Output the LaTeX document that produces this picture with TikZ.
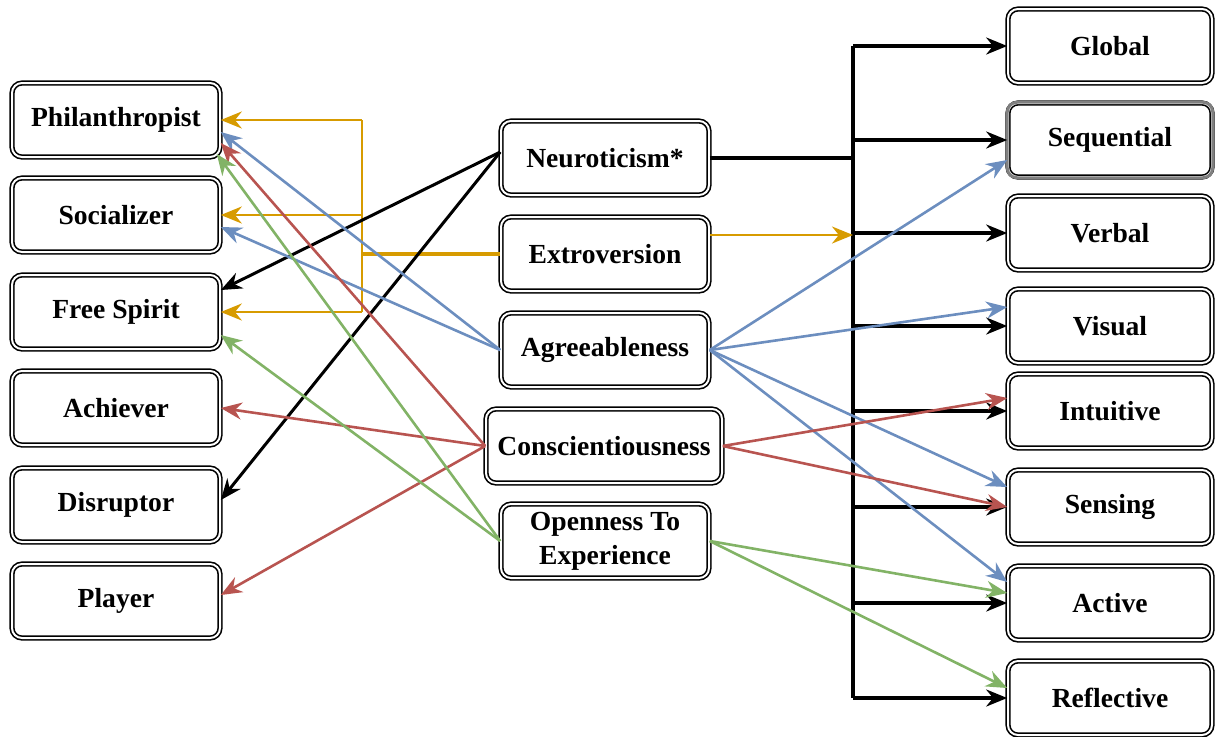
\documentclass[tikz,border=0pt]{standalone}
\usepackage{fontspec}
\setmainfont{Liberation Serif}
\usepackage{xcolor}
\usepackage{tikz}
\usetikzlibrary{arrows.meta, positioning, calc}

\definecolor{trorange}{HTML}{D79B00}
\definecolor{trblue}{HTML}{6C8EBF}
\definecolor{trred}{HTML}{B85450}
\definecolor{trgreen}{HTML}{82B366}

\begin{document}
\begin{tikzpicture}[x=0.5pt, y=-0.5pt,
  box/.style={draw, double, double distance=1pt, line width=0.8pt, rounded corners=5pt,
    fill=white, minimum width=104pt, minimum height=37pt, align=center, inner sep=2pt,
    font=\fontsize{13.8}{17}\selectfont\bfseries},
  link/.style={-{Stealth[length=10.5pt, width=8.5pt]}, line width=1.3pt},
  busarrow/.style={-{Stealth[length=10.5pt, width=8.5pt]}, line width=1.6pt}]
  \useasboundingbox (0,0) rectangle (1216,736);

  % Player types
  \foreach \name/\txt/\y in {phil/Philanthropist/120, soc/Socializer/215, free/Free Spirit/312,
      ach/Achiever/408, dis/Disruptor/505, play/Player/601}{
    \node[box] (\name) at (116,\y) {\txt};
  }

  % Personality traits
  \node[box] (neu) at (605,158) {Neuroticism*};
  \node[box] (ext) at (605,254) {Extroversion};
  \node[box] (agr) at (605,350) {Agreeableness};
  \node[box, minimum width=118pt] (con) at (604,446) {Conscientiousness};
  \node[box] (open) at (605,541) {Openness To\\Experience};

  % Learning styles
  \foreach \name/\txt/\y in {glob/Global/46, seq/Sequential/140, verb/Verbal/233, vis/Visual/326,
      intu/Intuitive/411, sens/Sensing/507, act/Active/603, refl/Reflective/698}{
    \node[box, minimum width=102pt] (\name) at (1110,\y) {\txt};
  }
  \draw[gray, line width=1.5pt, rounded corners=5pt] (seq.south west) rectangle (seq.north east);

  % Bus to learning styles
  \coordinate (bus) at (853,0);
  \draw[line width=1.6pt] (glob.west -| bus) -- (refl.west -| bus);
  \draw[line width=2.4pt] (neu.east) -- (neu.east -| bus);
  \foreach \name in {glob,seq,verb,vis,intu,sens,act,refl}{
    \draw[busarrow] (\name.west -| bus) -- (\name.west);
  }

  % Extroversion
  \coordinate (split) at (362,254);
  \coordinate (extout) at ($(ext.east)+(0,-19)$);
  \draw[link, trorange] (extout) -- (extout -| bus);
  \draw[trorange, line width=1.8pt] (ext.west) -- (split);
  \draw[trorange, line width=1.3pt] (split |- phil.east) -- (split |- free.east);
  \foreach \name in {phil,soc,free}{
    \draw[link, trorange] (split |- \name.east) -- (\name.east);
  }

  % Neuroticism
  \coordinate (neuin) at ($(neu.west)+(0,-6)$);
  \draw[link, line width=1.5pt] (neuin) -- ($(free.east)+(0,-22)$);
  \draw[link, line width=1.5pt] (neuin) -- ($(dis.east)+(0,-5)$);

  % Agreeableness
  \draw[link, trblue] (agr.west) -- ($(phil.east)+(0,12)$);
  \draw[link, trblue] (agr.west) -- ($(soc.east)+(0,12)$);
  \draw[link, trblue] (agr.east) -- ($(seq.west)+(0,20)$);
  \draw[link, trblue] (agr.east) -- ($(vis.west)+(0,-19)$);
  \draw[link, trblue] (agr.east) -- ($(sens.west)+(0,-20)$);
  \draw[link, trblue] (agr.east) -- ($(act.west)+(0,-21)$);

  % Conscientiousness
  \draw[link, trred] (con.west) -- ($(phil.east)+(0,23)$);
  \draw[link, trred] (con.west) -- (ach.east);
  \draw[link, trred] (con.west) -- ($(play.east)+(0,-6)$);
  \draw[link, trred] (con.east) -- ($(intu.west)+(0,-13)$);
  \draw[link, trred] (con.east) -- (sens.west);

  % Openness
  \draw[link, trgreen] (open.west) -- ($(phil.east)+(-4,34)$);
  \draw[link, trgreen] (open.west) -- ($(free.east)+(0,23)$);
  \draw[link, trgreen] (open.east) -- ($(act.west)+(0,-10)$);
  \draw[link, trgreen] (open.east) -- ($(refl.west)+(0,-10)$);
\end{tikzpicture}
\end{document}
